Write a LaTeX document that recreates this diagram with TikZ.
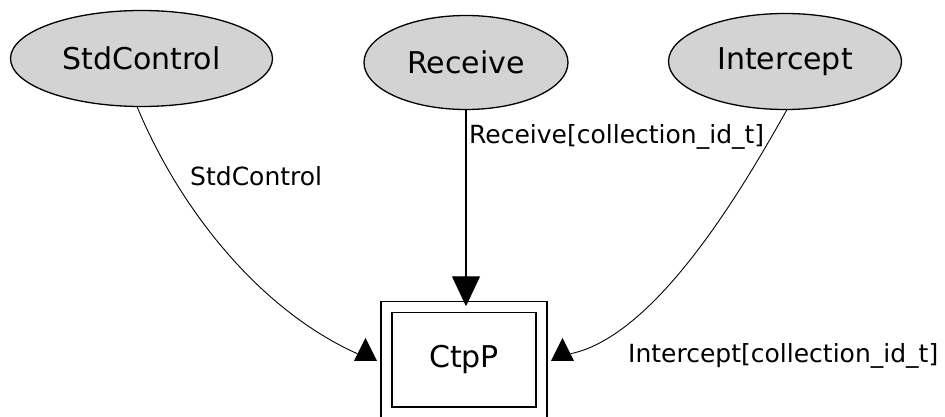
\documentclass[tikz,border=0pt]{standalone}
\usepackage{fontspec}
\setmainfont{DejaVu Sans}
\usetikzlibrary{shapes.geometric,arrows.meta}
\definecolor{ifgray}{RGB}{211,211,211}
\begin{document}
\begin{tikzpicture}[x=1pt,y=-1pt]

        \useasboundingbox (0,0) rectangle (945,417);

        \begin{scope}[every node/.style={ellipse,draw,fill=ifgray,line width=1.3pt,inner sep=0pt,font=\fontsize{30}{36}\selectfont}]
          \node[minimum width=262pt,minimum height=96pt] (std) at (141.5,58.5) {StdControl};
          \node[minimum width=204pt,minimum height=94pt] (rcv) at (466,62.5)  {Receive};
          \node[minimum width=233pt,minimum height=96pt] (icp) at (785,61.5)  {Intercept};
        \end{scope}

        \node[draw,double,line width=1.5pt,double distance=9.5pt,minimum width=155pt,minimum height=105.5pt,inner sep=0pt,font=\fontsize{30}{36}\selectfont] (ctp) at (464,359.75) {CtpP};

        \begin{scope}[every node/.style={isosceles triangle,isosceles triangle stretches,shape border rotate=90,fill=black,inner sep=0pt,minimum width=23pt,minimum height=23pt,anchor=south}]
          \node (tipL) at (365.5,361) {};
          \node (tipR) at (562.5,361) {};
        \end{scope}

        \begin{scope}[line width=.9pt]
          \draw (std.-95) .. controls (180,210) and (260,310) .. (tipL.west);
          \draw (icp.-88) .. controls (750,175) and (660,335) .. (tipR.east);
          \draw[line width=1.3pt,-{Triangle[length=30pt,width=28pt]}] (rcv.south) -- (rcv.south |- ctp.north);
        \end{scope}

        \begin{scope}[every node/.style={font=\fontsize{25}{30}\selectfont,inner sep=0pt,anchor=base west}]
          \node (lstd) at (190,185) {StdControl};
          \node (lrcv) at (469,143) {Receive[collection\_id\_t]};
          \node (licp) at (628,362) {Intercept[collection\_id\_t]};
        \end{scope}

      \end{tikzpicture}
\end{document}
